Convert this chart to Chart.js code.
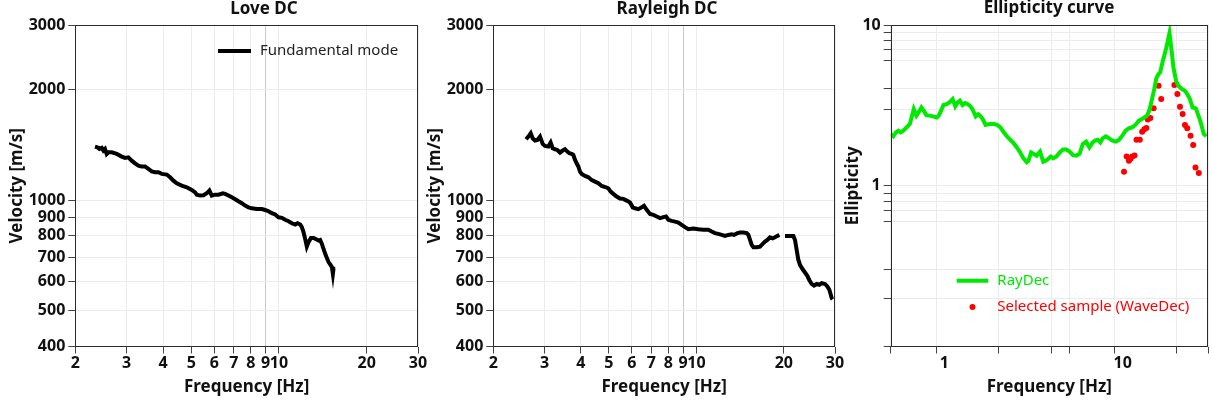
<!DOCTYPE html>
<html lang="en">
<head>
<meta charset="utf-8">
<title>Love / Rayleigh DC and ellipticity</title>
<script src="https://cdn.jsdelivr.net/npm/chart.js@4.4.1/dist/chart.umd.min.js"></script>
<style>
    html, body { margin: 0; padding: 0; background: #fff; }
    #figure { position: relative; width: 1212px; height: 404px; overflow: hidden; }
    #figure canvas { position: absolute; top: 0; }
</style>
</head>
<body>
<div id="figure">
    <canvas id="loveChart" width="430" height="404" style="left:0"></canvas>
    <canvas id="rayleighChart" width="430" height="404" style="left:420px"></canvas>
    <canvas id="ellipticityChart" width="372" height="404" style="left:840px"></canvas>
</div>
<script>
// ==================== DATA ====================

const LOVE_FREQ = [2.337, 2.380, 2.419, 2.464, 2.497, 2.529, 2.563, 2.597, 2.667, 2.775,
    2.887, 2.963, 3.042, 3.123, 3.207, 3.293, 3.381, 3.471, 3.564, 3.659,
    3.757, 3.857, 3.961, 4.120, 4.230, 4.342, 4.459, 4.639, 4.826, 5.019,
    5.154, 5.223, 5.362, 5.505, 5.652, 5.770, 5.880, 6.038, 6.199, 6.416,
    6.536, 6.710, 6.890, 7.072, 7.261, 7.456, 7.654, 7.860, 8.070, 8.395,
    8.734, 8.967, 9.207, 9.452, 9.705, 9.964, 10.23, 10.50, 10.79, 11.07,
    11.37, 11.58, 11.83, 11.98, 12.14, 12.30, 12.46, 12.63, 12.87, 13.14,
    13.42, 13.67, 13.85, 14.04, 14.22, 14.41, 14.60, 14.80, 14.99, 15.19,
    15.31, 15.39, 15.60];
const LOVE_VEL = [1400, 1394, 1380, 1389, 1366, 1380, 1337, 1351, 1351, 1337,
    1315, 1304, 1309, 1282, 1261, 1243, 1235, 1235, 1217, 1199,
    1192, 1192, 1180, 1175, 1155, 1131, 1112, 1096, 1085, 1067,
    1051, 1036, 1030, 1032, 1045, 1063, 1030, 1036, 1036, 1045,
    1041, 1030, 1019, 1007, 994, 982, 967, 957, 951, 947,
    947, 941, 934, 922, 915, 899, 896, 885, 877, 866,
    859, 866, 859, 845, 819, 785, 748, 769, 790, 790,
    783, 777, 780, 761, 737, 715, 697, 679, 669, 658,
    630, 651, 651];

// null marks the gap in the Rayleigh curve
const RAYLEIGH_FREQ = [2.593, 2.641, 2.690, 2.733, 2.784, 2.836, 2.896, 2.958, 3.013, 3.094,
    3.151, 3.202, 3.262, 3.322, 3.394, 3.466, 3.530, 3.596, 3.654, 3.722,
    3.771, 3.823, 3.872, 3.924, 3.976, 4.029, 4.137, 4.249, 4.362, 4.479,
    4.598, 4.722, 4.886, 4.977, 5.070, 5.178, 5.317, 5.459, 5.606, 5.756,
    5.910, 6.036, 6.149, 6.313, 6.483, 6.603, 6.746, 6.926, 7.111, 7.302,
    7.497, 7.698, 7.862, 8.009, 8.224, 8.444, 8.669, 8.902, 9.140, 9.385,
    9.761, 10.16, 10.57, 10.99, 11.29, 11.59, 11.90, 12.22, 12.54, 12.88,
    13.23, 13.47, 13.84, 14.13, 14.51, 14.90, 15.10, 15.30, 15.50, 15.71,
    16.13, 16.56, 16.91, 17.23, 17.55, 17.92, 18.31, 18.65, 19.00, 19.30,
    19.70,
    20.19, 20.73, 21.57, 21.85, 22.14, 22.43, 22.73, 23.22, 23.65,
    24.09, 24.47, 24.93, 25.40, 25.95, 26.50, 27.00, 27.72, 28.23, 28.69,
    29.22, 29.45];
const RAYLEIGH_VEL = [1466, 1491, 1522, 1475, 1454, 1460, 1491, 1424, 1406, 1400,
    1436, 1386, 1377, 1371, 1349, 1366, 1377, 1357, 1343, 1337,
    1329, 1288, 1261, 1236, 1197, 1180, 1165, 1155, 1136, 1124,
    1113, 1094, 1085, 1078, 1056, 1041, 1024, 1011, 1009, 998,
    986, 957, 951, 946, 957, 966, 942, 918, 913, 903,
    894, 900, 903, 885, 879, 875, 870, 857, 845, 834,
    838, 834, 831, 831, 822, 814, 810, 805, 800, 805,
    808, 805, 814, 817, 817, 814, 805, 780, 756, 745,
    745, 748, 761, 772, 780, 793, 788, 793, 800, 805,
    null,
    800, 800, 800, 780, 733, 689, 667, 649, 636,
    623, 607, 592, 586, 592, 589, 595, 592, 583, 571,
    542, 538];

const RAYDEC_FREQ = [0.556, 0.575, 0.595, 0.613, 0.632, 0.654, 0.682, 0.712, 0.736, 0.749,
    0.775, 0.801, 0.826, 0.851, 0.880, 0.918, 0.958, 1.008, 1.034, 1.065,
    1.098, 1.145, 1.185, 1.236, 1.279, 1.318, 1.357, 1.404, 1.453, 1.497,
    1.542, 1.595, 1.665, 1.722, 1.774, 1.828, 1.891, 1.956, 2.016, 2.103,
    2.194, 2.289, 2.389, 2.492, 2.601, 2.714, 2.831, 2.954, 3.082, 3.216,
    3.285, 3.400, 3.502, 3.654, 3.813, 3.978, 4.099, 4.240, 4.386, 4.518,
    4.714, 4.919, 5.133, 5.356, 5.589, 5.832, 6.085, 6.350, 6.625, 6.913,
    7.214, 7.526, 7.753, 8.022, 8.299, 8.550, 8.920, 9.308, 9.711, 10.13,
    10.57, 11.03, 11.51, 12.01, 12.53, 13.07, 13.64, 14.24, 14.66, 15.18,
    15.70, 16.17, 16.66, 17.09, 17.61, 17.98, 18.61, 19.17, 19.75, 20.26,
    20.87, 21.32, 22.05, 22.72, 23.71, 24.74, 25.48, 26.36, 27.28, 28.46,
    29.70, 30.60, 31.52, 32.61];
const RAYDEC_ELL = [2.10, 2.03, 2.15, 2.20, 2.15, 2.20, 2.31, 2.42, 2.79, 3.00,
    2.73, 2.89, 3.07, 2.93, 2.75, 2.73, 2.70, 2.66, 2.73, 2.93,
    3.18, 3.22, 3.30, 3.46, 3.12, 3.30, 3.38, 3.18, 3.27, 3.22,
    3.15, 3.00, 2.70, 2.79, 2.70, 2.58, 2.39, 2.41, 2.42, 2.42,
    2.39, 2.31, 2.15, 2.03, 1.93, 1.84, 1.73, 1.61, 1.48, 1.40,
    1.43, 1.61, 1.58, 1.54, 1.63, 1.41, 1.43, 1.47, 1.52, 1.48,
    1.52, 1.61, 1.68, 1.68, 1.63, 1.55, 1.54, 1.58, 1.82, 1.88,
    1.73, 1.86, 1.91, 1.93, 1.86, 1.97, 2.03, 1.97, 1.91, 1.88,
    1.93, 2.05, 2.20, 2.28, 2.31, 2.39, 2.54, 2.60, 2.66, 2.73,
    3.00, 3.46, 4.00, 4.66, 4.96, 5.08, 6.00, 6.76, 7.80, 8.92,
    6.76, 5.45, 4.50, 4.19, 4.00, 3.90, 3.72, 3.46, 3.07, 3.03,
    2.66, 2.39, 2.10, 2.03];

const WAVEDEC_FREQ = [11.27, 11.66, 12.01, 12.27, 12.53, 12.91, 13.24, 13.82, 14.24, 14.66,
    15.04, 15.31, 15.83, 16.52, 17.61, 18.21, 21.59, 22.43, 23.21, 24.01,
    24.74, 25.48, 26.59, 27.51, 28.34, 29.57];
const WAVEDEC_ELL = [1.22, 1.52, 1.43, 1.47, 1.52, 1.54, 1.93, 1.93, 2.17, 2.25,
    2.29, 2.58, 2.64, 3.03, 4.19, 3.46, 4.23, 3.72, 3.10, 2.79,
    2.39, 2.28, 2.05, 1.79, 1.30, 1.20];

// Ticks
const DC_FREQ_TICKS = [2, 3, 4, 5, 6, 7, 8, 9, 10, 20, 30];
const DC_VEL_TICKS = [400, 500, 600, 700, 800, 900, 1000, 2000, 3000];
const ELL_FREQ_TICKS = [0.556, 1, 2.22, 4.44, 5.55, 10, 22.2, 33.3];
const ELL_FREQ_LABELS = [1, 10];
const ELL_TICKS = [0.1, 0.2, 0.3, 0.6, 0.7, 0.8, 0.9, 1, 3, 4, 6, 7, 8, 9, 10];
const ELL_LABELS = [1, 10];

// ==================== PLUGIN: frame, legend, title ====================

const panelDecor = {
    id: 'panelDecor',
    afterDatasetsDraw(chart, args, opts) {
        const { ctx, chartArea: a } = chart;
        ctx.save();

        // marco completo del área del gráfico
        const x0 = Math.round(a.left), x1 = Math.round(a.right) - 1;
        const y0 = Math.round(a.top), y1 = Math.round(a.bottom) - 1;
        ctx.strokeStyle = '#2a2a2a';
        ctx.lineWidth = 1;
        ctx.strokeRect(x0 + 0.5, y0 + 0.5, x1 - x0, y1 - y0);

        // leyenda
        const lg = opts.legend;
        if (lg) {
            ctx.font = "15px 'Noto Sans'";
            ctx.textBaseline = 'middle';
            ctx.textAlign = 'left';
            chart.data.datasets.forEach((ds, i) => {
                const y = lg.y + i * lg.rowGap;
                const color = ds.showLine === false ? ds.backgroundColor : ds.borderColor;
                if (ds.showLine === false) {
                    ctx.fillStyle = color;
                    ctx.beginPath();
                    ctx.arc(lg.x + lg.sampleWidth / 2, y, ds.pointRadius, 0, Math.PI * 2);
                    ctx.fill();
                } else {
                    ctx.strokeStyle = color;
                    ctx.lineWidth = ds.borderWidth;
                    ctx.beginPath();
                    ctx.moveTo(lg.x, y);
                    ctx.lineTo(lg.x + lg.sampleWidth, y);
                    ctx.stroke();
                }
                ctx.fillStyle = lg.textColor || color;
                ctx.fillText(ds.label, lg.x + lg.sampleWidth + lg.gap, y);
            });
        }
        ctx.restore();
    },
    afterDraw(chart, args, opts) {
        if (!opts.title) return;
        const { ctx } = chart;
        ctx.save();
        ctx.font = "bold 17px 'Noto Sans'";
        ctx.fillStyle = '#111';
        ctx.textAlign = 'center';
        ctx.textBaseline = 'middle';
        ctx.fillText(opts.title.text, opts.title.x, opts.title.y);
        ctx.restore();
    }
};

// ==================== HELPERS ====================

function toPoints(xs, ys) {
    return xs.map((x, i) => ({ x: x, y: ys[i] }));
}

function logAxis(cfg) {
    const vertical = cfg.position === 'left';
    return {
        type: 'logarithmic',
        position: cfg.position,
        min: cfg.min,
        max: cfg.max,
        afterBuildTicks: axis => {
            axis.ticks = cfg.ticks.map(v => ({ value: v }));
        },
        afterFit: axis => {
            if (vertical) axis.width = cfg.size;
            else axis.height = cfg.size;
        },
        border: { display: false },
        grid: {
            color: ctx => (cfg.strongGrid && ctx.tick && ctx.tick.value === cfg.strongGrid) ? '#cacaca' : '#ececec',
            lineWidth: 1,
            tickLength: 7,
            tickColor: '#444'
        },
        ticks: {
            autoSkip: false,
            maxRotation: 0,
            minRotation: 0,
            padding: vertical ? 3 : 0,
            labelOffset: cfg.labelOffset || 0,
            color: '#111',
            font: { size: 16, weight: 'bold' },
            callback: value => {
                if (cfg.labels && !cfg.labels.includes(value)) return '';
                return String(value);
            }
        },
        title: {
            display: true,
            text: cfg.title,
            color: '#111',
            font: { size: 17, weight: 'bold' },
            padding: vertical ? { top: cfg.titlePad, bottom: 0 } : { top: 0, bottom: cfg.titlePad }
        }
    };
}

function baseOptions(rightPad, xAxis, yAxis, decor) {
    return {
        responsive: false,
        animation: false,
        layout: { padding: { top: 25, right: rightPad, bottom: 0, left: 0 } },
        scales: { x: xAxis, y: yAxis },
        plugins: {
            legend: { display: false },
            tooltip: { enabled: false },
            panelDecor: decor
        }
    };
}

// ==================== CHARTS ====================

Chart.defaults.font.family = "'Noto Sans', sans-serif";
Chart.defaults.color = '#111';

new Chart(document.getElementById('loveChart'), {
    type: 'scatter',
    data: {
        datasets: [{
            label: 'Fundamental mode',
            data: toPoints(LOVE_FREQ, LOVE_VEL),
            showLine: true,
            borderColor: '#000',
            borderWidth: 4,
            pointRadius: 0
        }]
    },
    options: baseOptions(12,
        logAxis({ position: 'bottom', min: 2, max: 30, ticks: DC_FREQ_TICKS, size: 57.5,
                  title: 'Frequency [Hz]', titlePad: 7, strongGrid: 9 }),
        logAxis({ position: 'left', min: 400, max: 3000, ticks: DC_VEL_TICKS, size: 75.3,
                  title: 'Velocity [m/s]', titlePad: 7 }),
        {
            title: { text: 'Love DC', x: 264, y: 9.5 },
            legend: { x: 218, y: 51, rowGap: 26, sampleWidth: 33, gap: 9, textColor: '#222' }
        }),
    plugins: [panelDecor]
});

new Chart(document.getElementById('rayleighChart'), {
    type: 'scatter',
    data: {
        datasets: [{
            label: 'Rayleigh',
            data: toPoints(RAYLEIGH_FREQ, RAYLEIGH_VEL),
            showLine: true,
            spanGaps: false,
            borderColor: '#000',
            borderWidth: 4,
            pointRadius: 0
        }]
    },
    options: baseOptions(15,
        logAxis({ position: 'bottom', min: 2, max: 30, ticks: DC_FREQ_TICKS, size: 57.5,
                  title: 'Frequency [Hz]', titlePad: 7, strongGrid: 9 }),
        logAxis({ position: 'left', min: 400, max: 3000, ticks: DC_VEL_TICKS, size: 73.3,
                  title: 'Velocity [m/s]', titlePad: 4.8 }),
        {
            title: { text: 'Rayleigh DC', x: 247, y: 9.5 }
        }),
    plugins: [panelDecor]
});

new Chart(document.getElementById('ellipticityChart'), {
    type: 'scatter',
    data: {
        datasets: [{
            label: 'RayDec',
            data: toPoints(RAYDEC_FREQ, RAYDEC_ELL),
            showLine: true,
            borderColor: '#00ea00',
            borderWidth: 4,
            pointRadius: 0
        }, {
            label: 'Selected sample (WaveDec)',
            data: toPoints(WAVEDEC_FREQ, WAVEDEC_ELL),
            showLine: false,
            backgroundColor: '#ff0000',
            borderWidth: 0,
            pointRadius: 3
        }]
    },
    options: baseOptions(0.5,
        logAxis({ position: 'bottom', min: 0.556, max: 33.3, ticks: ELL_FREQ_TICKS, labels: ELL_FREQ_LABELS,
                  labelOffset: 8, size: 57.5, title: 'Frequency [Hz]', titlePad: 7 }),
        logAxis({ position: 'left', min: 0.1, max: 10, ticks: ELL_TICKS, labels: ELL_LABELS, size: 50.7,
                  title: 'Ellipticity', titlePad: 2.6 }),
        {
            title: { text: 'Ellipticity curve', x: 209, y: 8 },
            legend: { x: 116.7, y: 280.7, rowGap: 26.3, sampleWidth: 31.6, gap: 9 }
        }),
    plugins: [panelDecor]
});
</script>
</body>
</html>
